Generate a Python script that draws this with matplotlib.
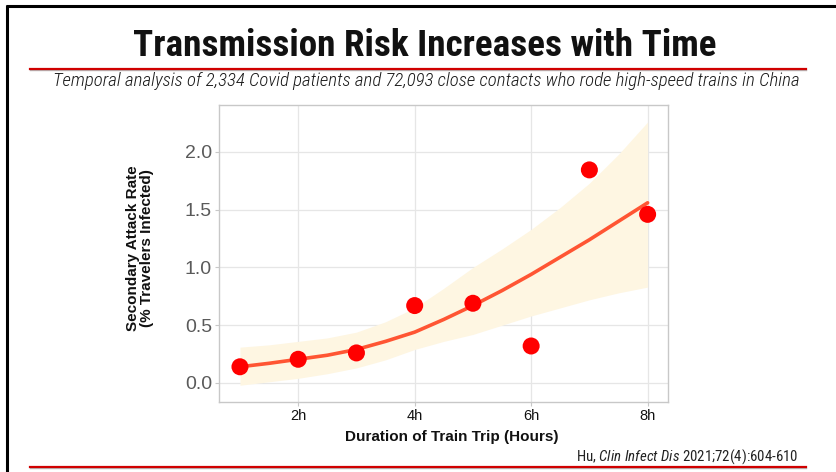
import matplotlib
matplotlib.use("Agg")
import matplotlib.pyplot as plt
from matplotlib.lines import Line2D

# ---- data ----
hours = [1, 2, 3, 4, 5, 6, 7, 8]
attack_rate = [0.14, 0.205, 0.26, 0.67, 0.69, 0.32, 1.845, 1.46]

fit_hours = [1, 1.5, 2, 2.5, 3, 3.5, 4, 4.5, 5, 5.5, 6, 6.5, 7, 7.5, 8]
fit_mid = [0.14, 0.17, 0.205, 0.24, 0.29, 0.36, 0.44, 0.55, 0.67, 0.80, 0.94, 1.09, 1.24, 1.40, 1.56]
fit_low = [-0.02, 0.01, 0.04, 0.08, 0.13, 0.20, 0.29, 0.36, 0.42, 0.50, 0.58, 0.65, 0.72, 0.78, 0.83]
fit_high = [0.31, 0.33, 0.36, 0.39, 0.44, 0.53, 0.65, 0.82, 1.00, 1.16, 1.33, 1.52, 1.73, 1.98, 2.26]

x_ticks = [2, 4, 6, 8]
x_tick_labels = ["2h", "4h", "6h", "8h"]
y_ticks = [0.0, 0.5, 1.0, 1.5, 2.0]
y_tick_labels = ["0.0", "0.5", "1.0", "1.5", "2.0"]

title = "Transmission Risk Increases with Time"
subtitle = "Temporal analysis of 2,334 Covid patients and 72,093 close contacts who rode high-speed trains in China"
x_label = "Duration of Train Trip (Hours)"
y_label = "Secondary Attack Rate\n(% Travelers Infected)"

W, H = 837, 472
fig = plt.figure(figsize=(W / 100, H / 100), dpi=100)
fig.patch.set_facecolor("white")

def fx(px):
    return px / W

def fy(py):
    return 1 - py / H

narrow = ["Roboto Condensed", "Archivo Narrow", "Liberation Sans", "DejaVu Sans"]
sans = ["Liberation Sans", "DejaVu Sans"]

plt.rcParams["mathtext.fontset"] = "custom"
plt.rcParams["mathtext.it"] = "Roboto Condensed:italic"
plt.rcParams["mathtext.rm"] = "Roboto Condensed"

renderer = fig.canvas.get_renderer()

def fit_width(t, target_px):
    w = t.get_window_extent(renderer=renderer).width
    t.set_fontsize(t.get_fontsize() * target_px / w)

# slide border (top and left)
fig.add_artist(Line2D([fx(6), fx(837)], [fy(5.5), fy(5.5)], color="black", lw=2.2,
                      transform=fig.transFigure, solid_capstyle="butt"))
fig.add_artist(Line2D([fx(7), fx(7)], [fy(4.5), fy(472)], color="black", lw=2.2,
                      transform=fig.transFigure, solid_capstyle="butt"))

# title
t1 = fig.text(fx(425), fy(46), title, ha="center", va="center", fontsize=28,
              fontweight="bold", family=narrow, color="#111111")
fit_width(t1, 584)
# red rules
for ypx in (68.5, 466.5):
    fig.add_artist(Line2D([fx(30), fx(806)], [fy(ypx + 1.5), fy(ypx + 1.5)], color="#9a9a9a",
                          lw=1.0, transform=fig.transFigure, alpha=0.7))
    fig.add_artist(Line2D([fx(30), fx(806)], [fy(ypx), fy(ypx)], color="#d00000",
                          lw=1.6, transform=fig.transFigure))
# subtitle
t2 = fig.text(fx(426), fy(81), subtitle, ha="center", va="center", fontsize=10.5,
              style="italic", fontweight="light", family=narrow, color="#1a1a1a")
fit_width(t2, 748)
# citation
t3 = fig.text(fx(798), fy(457), "Hu, $\\it{Clin\\ Infect\\ Dis}$ 2021;72(4):604-610", ha="right",
              va="center", fontsize=9, family=narrow, color="#222222")
fit_width(t3, 223)

# ---- plot panel ----
ax = fig.add_axes([fx(219), fy(402), fx(668) - fx(219), fy(105) - fy(402)])
ax.set_facecolor("white")
ax.fill_between(fit_hours, fit_low, fit_high, color="#FEF6E2", lw=0, zorder=1)
ax.plot(fit_hours, fit_mid, color="#FF5533", lw=2.6, zorder=2, solid_capstyle="round")
ax.scatter(hours, attack_rate, s=150, color="#FF0000", zorder=3, edgecolors="none")

ax.set_xlim(0.64, 8.35)
ax.set_ylim(-0.165, 2.407)
ax.set_xticks(x_ticks)
ax.set_xticklabels(x_tick_labels, fontsize=10.5, family=sans, color="#111111")
ax.set_yticks(y_ticks)
ax.set_yticklabels(y_tick_labels, fontsize=14, family=sans, color="#5a5a5a")
ax.grid(True, color="#E6E6E6", lw=0.9, zorder=0)
ax.set_axisbelow(True)
for s in ax.spines.values():
    s.set_color("#C8C8C8")
    s.set_linewidth(1.0)
ax.tick_params(axis="both", length=3, color="#C8C8C8", width=0.8, pad=2)

fig.text(fx(452), fy(437), x_label, ha="center", va="center", fontsize=11,
         fontweight="bold", family=sans, color="#111111")
fig.text(fx(140), fy(248), y_label, ha="center", va="center", fontsize=11,
         fontweight="bold", family=sans, color="#111111", rotation=90, linespacing=1.0)

fig.savefig("out.png", dpi=100, facecolor="white")
